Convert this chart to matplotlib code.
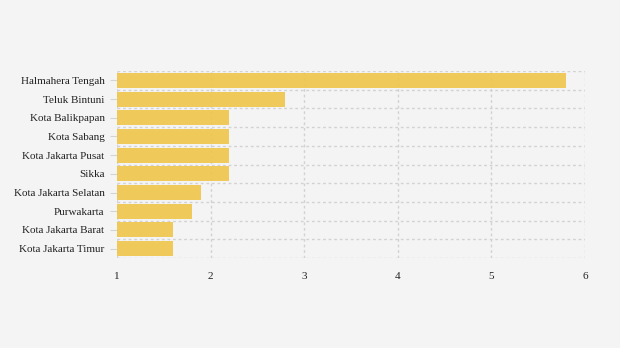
import matplotlib.pyplot as plt
import numpy as np
from matplotlib.ticker import FixedLocator

plt.rcParams['font.family'] = ['Liberation Serif', 'DejaVu Serif']

regions = ["Halmahera Tengah", "Teluk Bintuni", "Kota Balikpapan", "Kota Sabang",
           "Kota Jakarta Pusat", "Sikka", "Kota Jakarta Selatan", "Purwakarta",
           "Kota Jakarta Barat", "Kota Jakarta Timur"]
values = [5.8, 2.8, 2.2, 2.2, 2.2, 2.2, 1.9, 1.8, 1.6, 1.6]
x_ticks = [1, 2, 3, 4, 5, 6]

bg = "#f4f4f4"
fig = plt.figure(figsize=(6.2, 3.48), dpi=100, facecolor=bg)
ax = fig.add_axes([117 / 620, 1 - 258 / 348, (585 - 117) / 620, (258 - 71) / 348])
ax.set_facecolor(bg)

y = np.arange(len(regions))
# slight transparency lets the dashed grid show faintly through the bars
ax.barh(y, values, height=0.8, color="#f0c64f", alpha=0.93, zorder=2)

ax.set_xlim(1, 6)
ax.set_ylim(len(regions) - 0.5, -0.5)
ax.set_xticks(x_ticks)
ax.set_xticklabels([str(t) for t in x_ticks])
ax.set_yticks(y)
ax.set_yticklabels(regions)
ax.yaxis.set_minor_locator(FixedLocator(np.arange(-0.5, len(regions), 1)))

ax.grid(axis="x", which="major", color="#d2d2d2", linestyle=(0, (2, 2)), linewidth=1, zorder=0)
ax.grid(axis="y", which="minor", color="#d2d2d2", linestyle=(0, (2, 2)), linewidth=1, zorder=0)
ax.tick_params(axis="y", which="major", length=5, color="#d4d4d4", labelsize=8, labelcolor="#222222", pad=4)
ax.tick_params(axis="y", which="minor", length=0)
ax.tick_params(axis="x", length=0, labelsize=8, labelcolor="#222222", pad=10)

for s in ax.spines.values():
    s.set_visible(False)

plt.savefig("out.png", dpi=100, facecolor=bg)
